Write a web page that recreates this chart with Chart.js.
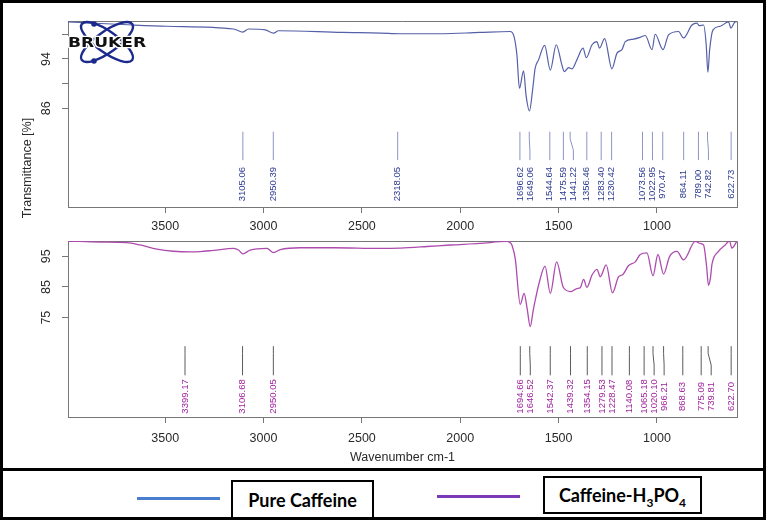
<!DOCTYPE html>
<html><head><meta charset="utf-8">
<script src="https://cdn.jsdelivr.net/npm/chart.js@4.4.1/dist/chart.umd.min.js"></script>
<style>
html,body{margin:0;padding:0;background:#fff;}
body{width:767px;height:520px;position:relative;overflow:hidden;font-family:"Liberation Sans",Arial,sans-serif;}
#frame{position:absolute;left:0;top:0;width:766px;height:520px;border:3px solid #000;box-sizing:border-box;z-index:3;pointer-events:none;}
#sep{position:absolute;left:0;top:468px;width:766px;height:3px;background:#000;z-index:3;}
canvas{position:absolute;left:0;}
#c1{top:0;}
#c2{top:225px;}
.lg-line{position:absolute;height:3px;}
.lg-box{position:absolute;border:2.5px solid #000;box-sizing:border-box;background:#fff;font-family:Lato,"Open Sans",sans-serif;font-weight:700;font-size:18px;display:flex;align-items:center;justify-content:center;color:#000;z-index:4;}
.lg-box sub{font-size:12px;vertical-align:-5px;line-height:0;}
</style></head>
<body>
<canvas id="c1" width="767" height="232"></canvas>
<canvas id="c2" width="767" height="245"></canvas>
<div id="frame"></div>
<div id="sep"></div>
<div class="lg-line" style="left:137px;top:497px;width:83px;background:#4a7fd0"></div>
<div class="lg-box" style="left:231px;top:480px;width:143px;height:39px"><span>Pure Caffeine</span></div>
<div class="lg-line" style="left:437px;top:495px;width:83px;background:#7b3ab5"></div>
<div class="lg-box" style="left:543px;top:476px;width:159px;height:38px"><span>Caffeine-H<sub>3</sub>PO<sub>4</sub></span></div>
<script>
// ---------- data ----------
const wnPure = [3994,3662,3491,3152,3105,3076,2991,2949,2924,2600,2407,2305,2102,1900,1746,1729,1712,1699,1678,1665,1648,1632,1619,1602,1571,1542,1512,1483,1471,1449,1432,1407,1376,1359,1330,1305,1292,1266,1229,1203,1178,1161,1119,1085,1059,1025,1009,969,941,890,865,822,797,785,763,750,741,732,715,678,636,624,602,595];
const tPure  = [100.0,99.5,99.3,98.85,98.35,98.85,98.7,98.2,98.57,98.3,98.2,98.08,98.08,98.3,98.45,97.9,94.7,89.25,92.07,88.0,85.56,89.0,92.5,93.85,96.2,92.2,96.3,93.0,91.95,92.6,92.4,93.85,95.75,94.2,96.3,96.8,95.75,97.3,92.4,94.95,95.5,96.8,97.2,97.5,97.8,95.5,98.0,95.5,97.9,98.45,97.4,99.5,99.8,99.4,99.5,96.5,91.85,95.5,98.7,99.3,100.0,99.0,100.0,100.0];

const wnAcid = [3994,3830,3694,3627,3542,3458,3373,3322,3254,3152,3127,3105,3068,2983,2949,2915,2813,2644,2407,2305,2169,2051,1900,1763,1746,1737,1720,1695,1675,1660,1644,1630,1619,1597,1569,1542,1510,1475,1437,1407,1390,1373,1356,1330,1305,1288,1258,1226,1195,1173,1144,1110,1085,1051,1020,995,966,936,898,865,805,780,763,748,738,728,720,687,653,631,619,593];
const tAcid  = [99.97,99.66,99.5,98.7,97.36,96.65,96.43,96.55,96.96,97.58,97.05,95.8,97.05,97.58,96.24,97.17,97.8,97.8,97.58,97.7,98.2,98.7,99.2,99.85,99.4,98.6,94.07,79.35,82.9,78,72.1,77,80.6,86.8,91.8,82.9,93.2,84.75,83.5,84.5,84.75,87.5,84.9,88.9,90.75,88.35,92.2,83.1,88.35,89.1,92,93.2,95.6,96.1,88.7,95.6,89.2,94.9,96.6,93.85,99.85,99.2,98.7,92,85.55,88,92.5,96.6,98.7,99.97,97.7,100];

const peaksPure = ["3105.06","2950.39","2318.05","1696.62","1649.06","1544.64","1475.59","1441.22","1356.46","1283.40","1230.42","1073.56","1022.95","970.47","864.11","789.00","742.82","622.73"];
const peaksAcid = ["3399.17","3106.68","2950.05","1694.66","1646.52","1542.37","1439.32","1354.15","1279.53","1228.47","1140.08","1065.18","1020.10","966.21","868.63","775.09","739.81","622.70"];

const xTickValues = [3500,3000,2500,2000,1500,1000];
const yTicksPure  = [98,94,90,86];
const yLabelsPure = [94,86];
const yTicksAcid  = [95,85,75];
const yLabelsAcid = [95,85,75];

// ---------- styles ----------
const FONT = '"Liberation Sans", Arial, sans-serif';
const AXIS = '#777777';
const TXT = '#2a2a2a';

function pts(xs, ys){ return xs.map((x,i)=>({x:x, y:ys[i]})); }

function xAxis(height, pad, title){
  return {
    type:'linear', reverse:true, min:593, max:3994,
    afterBuildTicks: s => { s.ticks = xTickValues.map(v=>({value:v})); },
    ticks:{color:TXT, font:{family:FONT,size:12.5}, padding:pad, maxRotation:0, minRotation:0, autoSkip:false, callback:v=>String(v)},
    grid:{drawOnChartArea:false, drawTicks:true, tickLength:6, color:AXIS, lineWidth:1},
    border:{display:true, color:AXIS, width:1},
    title: title ? {display:true, text:title, color:TXT, font:{family:FONT,size:12.5}, padding:{top:0,bottom:4.5}} : {display:false},
    afterFit: s => { s.height = height; }
  };
}
function yAxis(min, max, tickVals, labelVals){
  return {
    type:'linear', min:min, max:max,
    afterBuildTicks: s => { s.ticks = tickVals.map(v=>({value:v})); },
    ticks:{color:TXT, font:{family:FONT,size:12.5}, padding:8.5, minRotation:90, maxRotation:90, crossAlign:'center', autoSkip:false,
           callback:v => labelVals.includes(v) ? String(v) : ''},
    grid:{drawOnChartArea:false, drawTicks:true, tickLength:6, color:AXIS, lineWidth:1},
    border:{display:true, color:AXIS, width:1},
    afterFit: s => { s.width = 68; }
  };
}

const boxPlugin = {
  id:'box',
  beforeDatasetsDraw(chart){
    const {ctx, chartArea:a} = chart;
    ctx.save(); ctx.strokeStyle = AXIS; ctx.lineWidth = 1;
    ctx.beginPath();
    ctx.moveTo(a.left, Math.round(a.top)+0.5); ctx.lineTo(Math.round(a.right)+0.5, Math.round(a.top)+0.5);
    ctx.lineTo(Math.round(a.right)+0.5, a.bottom);
    ctx.stroke(); ctx.restore();
  }
};

const peakPlugin = {
  id:'peaks',
  afterDraw(chart, args, o){
    if(!o || !o.labels) return;
    const {ctx} = chart; const xs = chart.scales.x, ys = chart.scales.y;
    const px = o.labels.map(l => xs.getPixelForValue(Number(l)));
    const lx = [];
    px.forEach((p,i)=>{ lx.push(i===0 ? p : Math.max(p, lx[i-1]+o.gap)); });
    const y1 = ys.getPixelForValue(o.lineTop), y2 = ys.getPixelForValue(o.lineBottom), yl = ys.getPixelForValue(o.labelAt);
    ctx.save();
    ctx.strokeStyle = o.lineColor; ctx.lineWidth = 1;
    px.forEach((p,i)=>{
      ctx.beginPath();
      ctx.moveTo(p, y1); ctx.lineTo(p, y1+(y2-y1)*0.25); ctx.lineTo(lx[i], y1+(y2-y1)*0.65); ctx.lineTo(lx[i], y2);
      ctx.stroke();
    });
    ctx.fillStyle = o.textColor; ctx.font = '9.5px ' + FONT; ctx.textAlign='center'; ctx.textBaseline='middle';
    o.labels.forEach((l,i)=>{
      ctx.save(); ctx.translate(lx[i], yl); ctx.rotate(-Math.PI/2); ctx.fillText(l,0,0); ctx.restore();
    });
    ctx.restore();
  }
};

const decorPlugin = {
  id:'decor',
  afterDraw(chart){
    const ctx = chart.ctx;
    ctx.save();
    ctx.fillStyle = TXT; ctx.font = '12.5px ' + FONT; ctx.textAlign='center'; ctx.textBaseline='middle';
    ctx.translate(28,168); ctx.rotate(-Math.PI/2); ctx.fillText('Transmittance [%]',0,0);
    ctx.restore();
    ctx.save();
    ctx.strokeStyle = '#1b2a8c'; ctx.lineWidth = 2.4;
    ctx.beginPath(); ctx.ellipse(107,42,31,10.5,0.62,0,Math.PI*2); ctx.stroke();
    ctx.beginPath(); ctx.ellipse(107,42,31,10.5,-0.62,0,Math.PI*2); ctx.stroke();
    ctx.fillStyle = '#1b2a8c';
    ctx.beginPath(); ctx.arc(94,24,2.8,0,Math.PI*2); ctx.fill();
    ctx.beginPath(); ctx.arc(94,61,2.8,0,Math.PI*2); ctx.fill();
    ctx.translate(68,47); ctx.scale(1.22,1);
    ctx.font = 'bold 14px "DejaVu Sans", sans-serif'; ctx.textAlign='left'; ctx.textBaseline='alphabetic';
    ctx.lineWidth = 2.5; ctx.strokeStyle = '#fff'; ctx.lineJoin='round';
    ctx.strokeText('BRUKER',0,0);
    ctx.fillStyle = '#111'; ctx.fillText('BRUKER',0,0);
    ctx.restore();
  }
};

const common = {responsive:false, devicePixelRatio:1, animation:false, events:[]};

new Chart(document.getElementById('c1'), {
  type:'line',
  data:{datasets:[{label:'Pure Caffeine', data:pts(wnPure,tPure), borderColor:'#5560a8', borderWidth:1.2, pointRadius:0, cubicInterpolationMode:'monotone', fill:false}]},
  options:Object.assign({}, common, {
    layout:{padding:{top:21,left:0,right:30,bottom:0}},
    scales:{x:xAxis(25,6.5,null), y:yAxis(70,100.15,yTicksPure,yLabelsPure)},
    plugins:{legend:{display:false}, tooltip:{enabled:false},
      peaks:{labels:peaksPure, gap:10, lineTop:82.2, lineBottom:77.6, labelAt:73.7, lineColor:'#8d93c6', textColor:'#2b3990'}}
  }),
  plugins:[boxPlugin, peakPlugin, decorPlugin]
});

new Chart(document.getElementById('c2'), {
  type:'line',
  data:{datasets:[{label:'Caffeine-H3PO4', data:pts(wnAcid,tAcid), borderColor:'#ad4cae', borderWidth:1.3, pointRadius:0, cubicInterpolationMode:'monotone', fill:false}]},
  options:Object.assign({}, common, {
    layout:{padding:{top:7.3,left:0,right:30,bottom:0}},
    scales:{x:xAxis(53,8,'Wavenumber cm-1'), y:yAxis(42.6,100,yTicksAcid,yLabelsAcid)},
    plugins:{legend:{display:false}, tooltip:{enabled:false},
      peaks:{labels:peaksAcid, gap:10, lineTop:65.7, lineBottom:56.2, labelAt:49.3, lineColor:'#5a5a5a', textColor:'#a0249e'}}
  }),
  plugins:[boxPlugin, peakPlugin]
});
</script>
</body></html>
